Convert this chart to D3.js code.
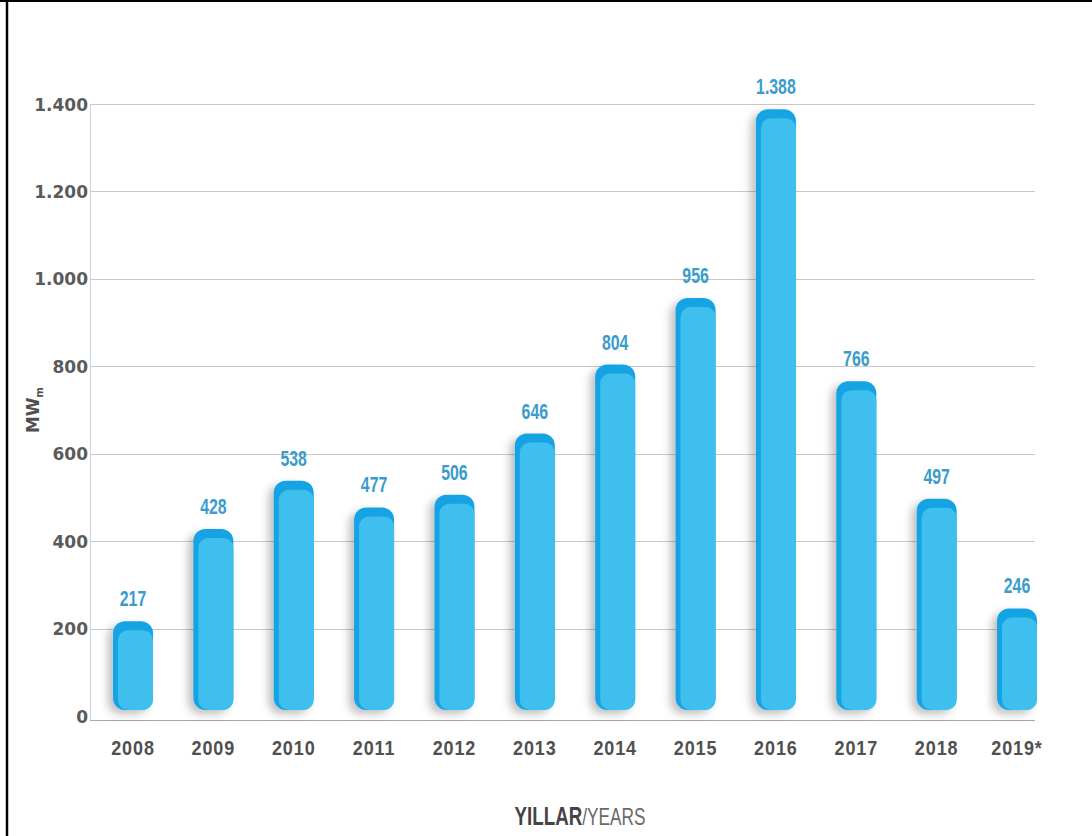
<!DOCTYPE html>
<html><head><meta charset="utf-8">
<script src="https://cdn.jsdelivr.net/npm/d3@7"></script>
<style>
html,body{margin:0;padding:0;background:#fff;}
svg{display:block;}
</style></head>
<body>
<svg id="chart" width="1092" height="836"></svg>
<script>
const years = ["2008","2009","2010","2011","2012","2013","2014","2015","2016","2017","2018","2019*"];
const values = [217,428,538,477,506,646,804,956,1388,766,497,246];
const valueLabels = ["217","428","538","477","506","646","804","956","1.388","766","497","246"];
const yTicks = [0,200,400,600,800,1000,1200,1400];
const yTickLabels = ["0","200","400","600","800","1.000","1.200","1.400"];

const svg = d3.select("#chart");
const W = 1092, H = 836;

// frame
svg.append("line").attr("x1",0).attr("x2",W).attr("y1",1).attr("y2",1).attr("stroke","#000").attr("stroke-width",2);
svg.append("line").attr("x1",7).attr("x2",7).attr("y1",0).attr("y2",H).attr("stroke","#000").attr("stroke-width",2.5);

const defs = svg.append("defs");
const f = defs.append("filter").attr("id","sh").attr("x","-50%").attr("y","-20%").attr("width","200%").attr("height","140%");
f.append("feDropShadow").attr("dx",-5).attr("dy",4).attr("stdDeviation",4).attr("flood-color","#000").attr("flood-opacity",0.25);

const x = d3.scaleBand().domain(years).range([92.8,1057.2]).paddingInner(0.5).paddingOuter(0.25);
const y = d3.scaleLinear().domain([0,1400]).range([716,104]);

const gridRight = 1035, axisX = 90;
const cond = "'Liberation Sans', Arial, sans-serif";

// gridlines
svg.append("g").selectAll("line").data(yTicks.filter(d=>d>0)).join("line")
  .attr("x1",axisX).attr("x2",gridRight)
  .attr("y1",d=>Math.round(y(d))+0.5).attr("y2",d=>Math.round(y(d))+0.5)
  .attr("stroke","#c8c8c8").attr("stroke-width",1);
// left axis line
svg.append("line").attr("x1",axisX+0.5).attr("x2",axisX+0.5).attr("y1",y(1400)).attr("y2",720)
  .attr("stroke","#d0d0d0");
// bottom baseline
svg.append("line").attr("x1",axisX).attr("x2",gridRight).attr("y1",720.5).attr("y2",720.5)
  .attr("stroke","#a8a8a8").attr("stroke-width",1.2);

// y tick labels
const yAxis = d3.axisLeft(y).tickValues(yTicks).tickSize(0).tickPadding(0)
  .tickFormat((d,i)=>yTickLabels[i]);
const ga = svg.append("g").attr("transform",`translate(88,0)`).call(yAxis);
ga.select(".domain").remove();
ga.selectAll("text").attr("font-family","'DejaVu Sans', sans-serif").attr("font-weight","bold")
  .attr("font-size",17).attr("fill","#5a5a5a").attr("dy","0.36em");

// bars
const bw = 40;
const barBottom = 710;
const bars = svg.append("g").selectAll("g").data(years).join("g")
  .attr("transform",d=>`translate(${x(d)+x.bandwidth()/2},0)`);
bars.append("rect")
  .attr("x",-bw/2).attr("width",bw)
  .attr("y",(d,i)=>y(values[i])).attr("height",(d,i)=>barBottom - y(values[i]))
  .attr("rx",12).attr("ry",12)
  .attr("fill","#14a3e4").attr("filter","url(#sh)");
bars.append("rect")
  .attr("x",-bw/2+5).attr("width",bw-5)
  .attr("y",(d,i)=>y(values[i])+9).attr("height",(d,i)=>barBottom - y(values[i]) - 9)
  .attr("rx",10).attr("ry",10)
  .attr("fill","#3fbfee");

// value labels (condensed)
bars.append("text")
  .attr("transform",(d,i)=>`translate(0,${y(values[i]) - 15}) scale(0.72,1)`)
  .attr("text-anchor","middle")
  .attr("font-family",cond)
  .attr("font-weight","bold")
  .attr("font-size",22)
  .attr("fill","#3a9ccb")
  .text((d,i)=>valueLabels[i]);

// x axis labels
const xAxis = d3.axisBottom(x).tickSize(0).tickPadding(0);
const gx = svg.append("g").attr("transform","translate(0,741)").call(xAxis);
gx.select(".domain").remove();
gx.selectAll("text").attr("font-family",cond).attr("font-weight","bold")
  .attr("font-size",20).attr("letter-spacing","1px").attr("fill","#505050").attr("dy","0.71em")
  .attr("transform","scale(0.9,1)");

// y title
const yt = svg.append("text").attr("transform","translate(39,410) rotate(-90)")
  .attr("text-anchor","middle").attr("font-family","'DejaVu Sans', sans-serif").attr("font-weight","bold")
  .attr("font-size",17).attr("fill","#505050");
yt.append("tspan").text("MW");
yt.append("tspan").attr("font-size",10).attr("dy",4).text("m");

// x title (condensed)
const xt = svg.append("text").attr("transform","translate(580,825) scale(0.75,1)").attr("text-anchor","middle")
  .attr("font-family",cond);
xt.append("tspan").attr("font-weight","bold").attr("font-size",25).attr("fill","#444").text("YILLAR");
xt.append("tspan").attr("font-size",23).attr("fill","#6a6a6a").text("/YEARS");
</script>
</body></html>
